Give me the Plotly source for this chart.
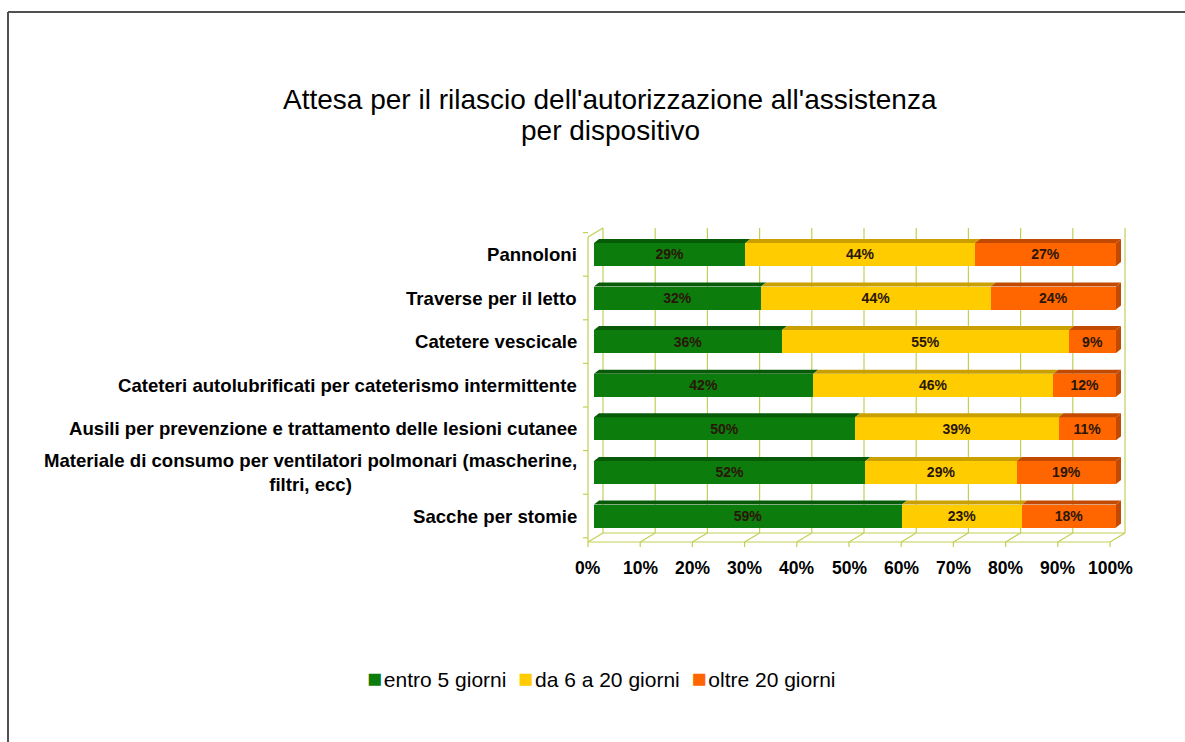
import plotly.graph_objects as go

# ---- data ----
categories = [
    "Sacche per stomie",
    "Materiale di consumo per ventilatori polmonari (mascherine,<br>filtri, ecc)",
    "Ausili per prevenzione e trattamento delle lesioni cutanee",
    "Cateteri autolubrificati per cateterismo intermittente",
    "Catetere vescicale",
    "Traverse per il letto",
    "Pannoloni",
]
entro_5 = [59, 52, 50, 42, 36, 32, 29]
da_6_a_20 = [23, 29, 39, 46, 55, 44, 44]
oltre_20 = [18, 19, 11, 12, 9, 24, 27]
series_names = ["entro 5 giorni", "da 6 a 20 giorni", "oltre 20 giorni"]
tick_values = [0, 10, 20, 30, 40, 50, 60, 70, 80, 90, 100]
tick_labels = [f"{v}%" for v in tick_values]
title_lines = ["Attesa per il rilascio dell'autorizzazione all'assistenza", "per dispositivo"]

front_colors = ["#0c7c0c", "#ffcc00", "#ff6600"]
top_colors = ["#075a07", "#c9a000", "#c24a00"]
grid_color = "#c3cf55"
FONT = "Liberation Sans, Arial, sans-serif"

# ---- geometry (pixels) ----
W, H = 1185, 742
PX0, PX_PER = 594.0, 5.22        # x pixel of 0 % on the bar face, pixels per %
PY0, PY_PER = 516.0, 43.6        # y pixel of first category, pixels per category
AREA_L, AREA_R, AREA_T, AREA_B = 575, 1135, 220, 552

def ux(px):
    return (px - PX0) / PX_PER

def vy(py):
    return (PY0 - py) / PY_PER

def du(dpx):
    return dpx / PX_PER

def dv(dpy):
    return -dpy / PY_PER

bar_w = 23 / PY_PER
depth_dx, depth_dy = 5, -4          # bar depth offset in pixels
floor_front_dx, wall_back_dx = -6, 9
floor_front_y, floor_back_y = 542, 533
wall_top_y = 228

n = len(categories)
ypos = list(range(n))
series = [entro_5, da_6_a_20, oltre_20]

fig = go.Figure()
for name, vals, col in zip(series_names, series, front_colors):
    fig.add_trace(go.Bar(
        y=ypos, x=vals, name=name, orientation="h", width=bar_w,
        marker=dict(color=col, line=dict(width=0)),
        text=[f"<b>{v}%</b>" for v in vals], textposition="inside",
        insidetextanchor="middle",
        textfont=dict(family="Liberation Sans Narrow, Arial Narrow, " + FONT,
                      size=14, color="#2a1608"),
        showlegend=False, cliponaxis=False,
    ))

shapes = []
line_grid = dict(color=grid_color, width=1.2)

# back wall grid lines, floor diagonals and front floor ticks
for t in tick_values:
    xb = t + du(wall_back_dx)
    xf = t + du(floor_front_dx)
    shapes.append(dict(type="line", xref="x", yref="y", x0=xb, x1=xb,
                       y0=vy(wall_top_y), y1=vy(floor_back_y), line=line_grid, layer="below"))
    shapes.append(dict(type="line", xref="x", yref="y", x0=xb, x1=xf,
                       y0=vy(floor_back_y), y1=vy(floor_front_y), line=line_grid, layer="below"))
    shapes.append(dict(type="line", xref="x", yref="y", x0=xf, x1=xf,
                       y0=vy(floor_front_y), y1=vy(floor_front_y + 5), line=line_grid, layer="below"))
# floor edges
shapes.append(dict(type="line", xref="x", yref="y", x0=du(wall_back_dx), x1=100 + du(wall_back_dx),
                   y0=vy(floor_back_y), y1=vy(floor_back_y), line=line_grid, layer="below"))
shapes.append(dict(type="line", xref="x", yref="y", x0=du(floor_front_dx), x1=100 + du(floor_front_dx),
                   y0=vy(floor_front_y), y1=vy(floor_front_y), line=line_grid, layer="below"))
# left side wall
xl_f, xl_b = du(floor_front_dx), du(wall_back_dx)
top_front_y = wall_top_y + (floor_front_y - floor_back_y)
shapes.append(dict(type="line", xref="x", yref="y", x0=xl_f, x1=xl_f,
                   y0=vy(top_front_y), y1=vy(floor_front_y), line=line_grid, layer="below"))
shapes.append(dict(type="line", xref="x", yref="y", x0=xl_f, x1=xl_b,
                   y0=vy(top_front_y), y1=vy(wall_top_y), line=line_grid, layer="below"))
# category boundary ticks on the side wall
for k in range(n + 1):
    yb = k - 0.5
    shapes.append(dict(type="line", xref="x", yref="y", x0=xl_f - du(5), x1=xl_f,
                       y0=yb, y1=yb, line=line_grid, layer="below"))

# 3D top and side faces of the bar segments
for i in range(n):
    start = 0
    for s, vals in enumerate(series):
        end = start + vals[i]
        y_top = i + bar_w / 2
        path = (f"M {start},{y_top} L {start + du(depth_dx)},{y_top + dv(depth_dy)} "
                f"L {end + du(depth_dx)},{y_top + dv(depth_dy)} L {end},{y_top} Z")
        shapes.append(dict(type="path", xref="x", yref="y", path=path,
                           fillcolor=top_colors[s], line=dict(width=0), layer="above"))
        start = end
    # right-hand side face of the last segment
    y_top, y_bot = i + bar_w / 2, i - bar_w / 2
    path = (f"M {start},{y_top} L {start + du(depth_dx)},{y_top + dv(depth_dy)} "
            f"L {start + du(depth_dx)},{y_bot + dv(depth_dy)} L {start},{y_bot} Z")
    shapes.append(dict(type="path", xref="x", yref="y", path=path,
                       fillcolor=top_colors[-1], line=dict(width=0), layer="above"))

# outer frame
pw, ph = AREA_R - AREA_L, AREA_B - AREA_T

def paper_x(px):
    return (px - AREA_L) / pw

def paper_y(py):
    return (AREA_B - py) / ph

frame = dict(color="#505050", width=2)
shapes.append(dict(type="line", xref="paper", yref="paper", x0=paper_x(8), x1=paper_x(W + 5),
                   y0=paper_y(12), y1=paper_y(12), line=frame))
shapes.append(dict(type="line", xref="paper", yref="paper", x0=paper_x(8), x1=paper_x(8),
                   y0=paper_y(12), y1=paper_y(H + 5), line=frame))

annotations = []
# category labels
for i, c in enumerate(categories):
    annotations.append(dict(xref="paper", yref="y", x=paper_x(579), y=i, text=f"<b>{c}</b>",
                            xanchor="right", yanchor="middle", align="center", showarrow=False,
                            font=dict(family=FONT, size=18.6, color="#000000")))
# percentage tick labels at the front floor edge
for t, lab in zip(tick_values, tick_labels):
    annotations.append(dict(xref="x", yref="paper", x=t + du(floor_front_dx), y=paper_y(568),
                            text=f"<b>{lab}</b>", xanchor="center", yanchor="middle", showarrow=False,
                            font=dict(family=FONT, size=17.5, color="#000000")))
# title (two lines, tight spacing)
for line_text, py in zip(title_lines, [100, 130]):
    annotations.append(dict(xref="paper", yref="paper", x=paper_x(610), y=paper_y(py),
                            text=line_text, xanchor="center", yanchor="middle", showarrow=False,
                            font=dict(family=FONT, size=28, color="#000000")))
# legend: coloured square followed by the series name
legend_html = "&nbsp;&nbsp;".join(
    f"<span style='color:{c};font-size:25px'>■</span>&#8202;{name}"
    for name, c in zip(series_names, front_colors))
annotations.append(dict(xref="paper", yref="paper", x=paper_x(601), y=paper_y(678),
                        text=legend_html, xanchor="center", yanchor="middle", showarrow=False,
                        font=dict(family=FONT, size=21, color="#000000")))

fig.update_layout(
    width=W, height=H, barmode="stack",
    margin=dict(l=AREA_L, r=W - AREA_R, t=AREA_T, b=H - AREA_B, pad=0),
    paper_bgcolor="white", plot_bgcolor="white",
    xaxis=dict(range=[ux(AREA_L), ux(AREA_R)], showgrid=False, zeroline=False,
               showticklabels=False, ticks="", fixedrange=True),
    yaxis=dict(range=[vy(AREA_B), vy(AREA_T)], showgrid=False, zeroline=False,
               showticklabels=False, ticks="", fixedrange=True),
    shapes=shapes, annotations=annotations,
    uniformtext=dict(minsize=8, mode="show"),
)

fig.write_html("out.html")
